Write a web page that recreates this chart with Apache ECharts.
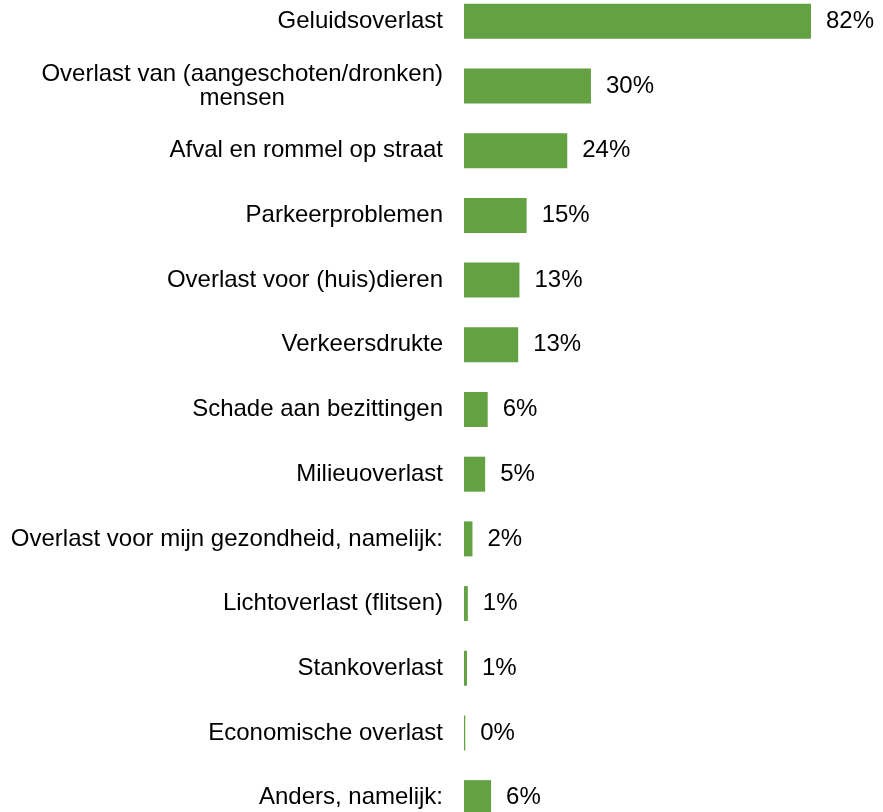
<!DOCTYPE html>
<html>
<head>
<meta charset="utf-8">
<script src="https://cdn.jsdelivr.net/npm/echarts@6/dist/echarts.min.js"></script>
<style>
  html, body { margin: 0; padding: 0; background: #fff; overflow: hidden; }
  /* chart is a bit taller than the window: the first and last rows are cut off like the reference */
  #chart { position: absolute; left: 0; top: -11px; width: 883px; height: 841px; }
</style>
</head>
<body>
<div id="chart"></div>
<script>
// categories top to bottom
const categories = [
  'Geluidsoverlast',
  'Overlast van (aangeschoten/dronken)\nmensen',
  'Afval en rommel op straat',
  'Parkeerproblemen',
  'Overlast voor (huis)dieren',
  'Verkeersdrukte',
  'Schade aan bezittingen',
  'Milieuoverlast',
  'Overlast voor mijn gezondheid, namelijk:',
  'Lichtoverlast (flitsen)',
  'Stankoverlast',
  'Economische overlast',
  'Anders, namelijk:'
];
// percentages
const values = [82, 30, 24.4, 14.8, 13.1, 12.8, 5.6, 5.0, 2.0, 0.9, 0.7, 0.3, 6.4];

const chart = echarts.init(document.getElementById('chart'));
chart.setOption({
  animation: false,
  grid: { left: 464, right: 72, top: 0, bottom: 0, containLabel: false },
  xAxis: {
    type: 'value',
    min: 0,
    max: 82,
    show: false
  },
  yAxis: {
    type: 'category',
    inverse: true,
    data: categories,
    axisLine: { show: false },
    axisTick: { show: false },
    axisLabel: {
      margin: 21,
      color: '#000',
      fontFamily: 'Liberation Sans, Arial, sans-serif',
      fontSize: 24,
      lineHeight: 24,
      formatter: function (v) {
        return v.split('\n').map(function (l) { return '{c|' + l + '}'; }).join('\n');
      },
      rich: {
        c: {
          align: 'center',
          color: '#000',
          fontFamily: 'Liberation Sans, Arial, sans-serif',
          fontSize: 24,
          lineHeight: 24
        }
      }
    }
  },
  series: [{
    type: 'bar',
    data: values,
    barWidth: 35,
    itemStyle: { color: '#63a142' },
    label: {
      show: true,
      position: 'right',
      distance: 15,
      color: '#000',
      fontFamily: 'Liberation Sans, Arial, sans-serif',
      fontSize: 24,
      formatter: function (p) { return Math.round(p.value) + '%'; }
    }
  }]
});
</script>
</body>
</html>
